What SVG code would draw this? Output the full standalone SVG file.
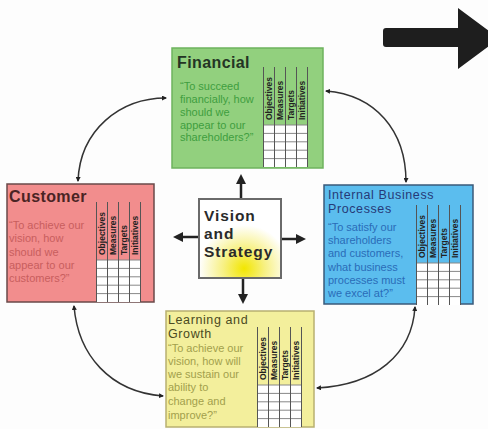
<svg xmlns="http://www.w3.org/2000/svg" width="488" height="429" viewBox="0 0 488 429">
<defs>
<style>
.title{font-family:"Liberation Sans",Arial,sans-serif;font-weight:bold;font-size:16px;letter-spacing:0.4px}
.title2{font-family:"Liberation Sans",Arial,sans-serif;font-size:12.5px;letter-spacing:0.6px}
.body{font-family:"Liberation Sans",Arial,sans-serif;font-size:11px}
.hdr{font-family:"Liberation Sans",Arial,sans-serif;font-weight:bold;font-size:8.5px;fill:#222}
.vs{font-family:"Liberation Sans",Arial,sans-serif;font-weight:bold;font-size:15.5px;letter-spacing:0.9px;fill:#2a2a2a}
.curve{fill:none;stroke:#333;stroke-width:1.5}
.main{fill:none;stroke:#222;stroke-width:2.5}
.gl{stroke:#555;stroke-width:1}
.gh{stroke:#888;stroke-width:1}
</style>
<marker id="sm" viewBox="0 0 10 10" refX="8" refY="5" markerWidth="5" markerHeight="5" orient="auto-start-reverse" markerUnits="userSpaceOnUse">
<path d="M0,0 L10,5 L0,10 z" fill="#222"/>
</marker>
<marker id="bm" viewBox="0 0 10 10" refX="6" refY="5" markerWidth="10" markerHeight="10" orient="auto" markerUnits="userSpaceOnUse">
<path d="M0,0 L10,5 L0,10 z" fill="#222"/>
</marker>
<radialGradient id="vg" cx="0.55" cy="0.88" r="0.55">
<stop offset="0" stop-color="#f2e600"/>
<stop offset="0.45" stop-color="#f7f080"/>
<stop offset="1" stop-color="#ffffff"/>
</radialGradient>
<g id="grid">
<rect x="0" y="58" width="45" height="42" fill="#fff"/>
<line class="gh" x1="0" y1="58" x2="45" y2="58"/>
<line class="gh" x1="0" y1="66.4" x2="45" y2="66.4"/>
<line class="gh" x1="0" y1="74.8" x2="45" y2="74.8"/>
<line class="gh" x1="0" y1="83.2" x2="45" y2="83.2"/>
<line class="gh" x1="0" y1="91.6" x2="45" y2="91.6"/>
<line class="gl" x1="0.5" y1="0" x2="0.5" y2="100"/>
<line class="gl" x1="11.5" y1="0" x2="11.5" y2="100"/>
<line class="gl" x1="22.5" y1="0" x2="22.5" y2="100"/>
<line class="gl" x1="33.5" y1="0" x2="33.5" y2="100"/>
<line class="gl" x1="44.5" y1="0" x2="44.5" y2="100"/>
<text class="hdr" transform="translate(9,53) rotate(-90)">Objectives</text>
<text class="hdr" transform="translate(20,53) rotate(-90)">Measures</text>
<text class="hdr" transform="translate(31,53) rotate(-90)">Targets</text>
<text class="hdr" transform="translate(42,53) rotate(-90)">Initiatives</text>
</g>
</defs>
<rect width="488" height="429" fill="#fdfdfd"/>

<g id="bigarrow">
<path d="M386,28 L458,28 L458,8 L499,38.5 L458,69 L458,47 L386,47 Q383,47 383,44 L383,31 Q383,28 386,28 z" fill="#1e1e1e"/>
</g>

<g id="connectors">
<path class="curve" d="M166,98 C120,98 80,130 78,181" marker-start="url(#sm)" marker-end="url(#sm)"/>
<path class="curve" d="M326,91 C375,95 406,130 406,182" marker-start="url(#sm)" marker-end="url(#sm)"/>
<path class="curve" d="M74,306 C78,355 110,392 163,396" marker-start="url(#sm)" marker-end="url(#sm)"/>
<path class="curve" d="M415,307 C412,355 375,385 317,388" marker-start="url(#sm)" marker-end="url(#sm)"/>
<line class="main" x1="241" y1="199" x2="241" y2="178" marker-end="url(#bm)"/>
<line class="main" x1="199" y1="237" x2="177" y2="237" marker-end="url(#bm)"/>
<line class="main" x1="281" y1="239" x2="302" y2="239" marker-end="url(#bm)"/>
<line class="main" x1="243" y1="278" x2="243" y2="300" marker-end="url(#bm)"/>
</g>

<g id="financial">
<rect x="172" y="48" width="151" height="120" fill="#92d07e" stroke="#6eb35e" stroke-width="1.5"/>
<text class="title" x="177" y="68" fill="#243424">Financial</text>
<g class="body" fill="#3f9e3f">
<text x="180" y="90">“To succeed</text>
<text x="180" y="103">financially, how</text>
<text x="180" y="116">should we</text>
<text x="180" y="129">appear to our</text>
<text x="180" y="141">shareholders?”</text>
</g>
<use href="#grid" transform="translate(263,67)"/>
</g>

<g id="customer">
<rect x="7" y="184" width="147" height="118" fill="#f28d8d" stroke="#6a4a4a" stroke-width="1.5"/>
<text class="title" x="9" y="202" fill="#4a2424">Customer</text>
<g class="body" fill="#c85e5e">
<text x="9" y="229">“To achieve our</text>
<text x="9" y="242">vision, how</text>
<text x="9" y="256">should we</text>
<text x="9" y="269">appear to our</text>
<text x="9" y="282">customers?”</text>
</g>
<use href="#grid" transform="translate(96,202)"/>
</g>

<g id="internal">
<rect x="324" y="185" width="149" height="119" fill="#5bbdee" stroke="#3a5a7a" stroke-width="1.5"/>
<text class="title2" x="328" y="199" fill="#263a78">Internal Business</text>
<text class="title2" x="328" y="213" fill="#263a78">Processes</text>
<g class="body" fill="#2a6cb8">
<text x="328" y="231">“To satisfy our</text>
<text x="328" y="244">shareholders</text>
<text x="328" y="257">and customers,</text>
<text x="328" y="271">what business</text>
<text x="328" y="284">processes must</text>
<text x="328" y="297">we excel at?”</text>
</g>
<use href="#grid" transform="translate(416,205)"/>
</g>

<g id="learning">
<rect x="166" y="311" width="148" height="116" fill="#f3ef9c" stroke="#b8b070" stroke-width="1.5"/>
<text class="title2" x="168" y="324" fill="#4a4a22">Learning and</text>
<text class="title2" x="168" y="338" fill="#4a4a22">Growth</text>
<g class="body" fill="#a2a04c">
<text x="168" y="352">“To achieve our</text>
<text x="168" y="365">vision, how will</text>
<text x="168" y="378">we sustain our</text>
<text x="168" y="391">ability to</text>
<text x="168" y="405">change and</text>
<text x="168" y="419">improve?”</text>
</g>
<use href="#grid" transform="translate(257,327)"/>
</g>

<g id="vision">
<rect x="199" y="199" width="82" height="79" fill="url(#vg)" stroke="#6a6a6a" stroke-width="2"/>
<text class="vs" x="204" y="221">Vision</text>
<text class="vs" x="204" y="239">and</text>
<text class="vs" x="204" y="257">Strategy</text>
</g>
</svg>
